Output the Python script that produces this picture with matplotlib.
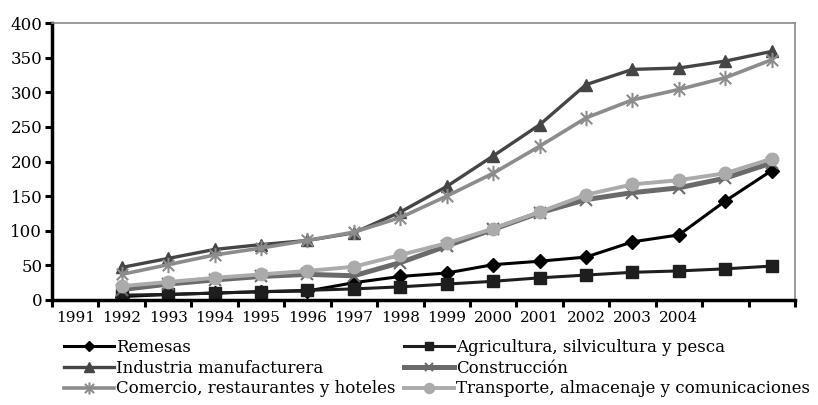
import numpy as np
import matplotlib
matplotlib.use("Agg")
import matplotlib.pyplot as plt
from matplotlib.path import Path

plt.rcParams['font.family'] = ['DejaVu Serif']

# categorias del eje x (16 posiciones, las dos ultimas sin rotulo)
years = ['1991', '1992', '1993', '1994', '1995', '1996', '1997', '1998',
         '1999', '2000', '2001', '2002', '2003', '2004', '', '']

# series (la primera posicion, 1991, no tiene dato)
remesas = [np.nan, 5, 8, 10, 12, 13, 25, 34, 39, 51, 56, 62, 84, 94, 143, 187]
agricultura = [np.nan, 7, 8, 10, 12, 14, 16, 19, 23, 27, 32, 36, 40, 42, 45, 49]
industria = [np.nan, 47, 60, 73, 80, 86, 97, 127, 164, 208, 253, 311, 333, 335, 345, 359]
construccion = [np.nan, 15, 23, 29, 34, 37, 35, 54, 78, 102, 126, 145, 155, 162, 176, 198]
comercio = [np.nan, 37, 51, 65, 75, 86, 98, 119, 150, 183, 222, 263, 289, 304, 321, 347]
transporte = [np.nan, 20, 26, 32, 37, 42, 48, 65, 82, 103, 127, 152, 167, 173, 183, 204]

# marcador tipo asterisco (cruz + linea vertical)
star = Path([(0, -1), (0, 1), (-0.75, -0.75), (0.75, 0.75), (-0.75, 0.75), (0.75, -0.75)],
            [Path.MOVETO, Path.LINETO] * 3)

fig = plt.figure(figsize=(8.18, 4.05), dpi=100)
ax = fig.add_axes([52/818, 1 - 300/405, 743/818, 277/405])

x = np.arange(len(years)) + 0.5

l_rem, = ax.plot(x, remesas, color='#000000', lw=2.2, marker='D', ms=7, label='Remesas')
l_agr, = ax.plot(x, agricultura, color='#1e1e1e', lw=2.2, marker='s', ms=8,
                 label='Agricultura, silvicultura y pesca')
l_ind, = ax.plot(x, industria, color='#454545', lw=2.4, marker='^', ms=9,
                 label='Industria manufacturera')
l_con, = ax.plot(x, construccion, color='#6a6a6a', lw=3.6, marker='x', ms=8, mew=1.5,
                 label='Construcción')
l_com, = ax.plot(x, comercio, color='#8c8c8c', lw=2.6, marker=star, ms=11, mew=1.5,
                 label='Comercio, restaurantes y hoteles')
l_tra, = ax.plot(x, transporte, color='#ababab', lw=2.8, marker='o', ms=9,
                 label='Transporte, almacenaje y comunicaciones')

ax.set_xlim(0, len(years))
ax.set_ylim(0, 400)
ax.set_yticks(range(0, 401, 50))
ax.set_xticks(np.arange(len(years) + 1))
ax.set_xticklabels([])
ax.set_xticks(x, minor=True)
ax.set_xticklabels(years, minor=True)

ax.tick_params(axis='y', direction='out', length=5, width=2.2, labelsize=12, pad=2)
ax.tick_params(axis='x', which='major', direction='out', length=5, width=2.2)
ax.tick_params(axis='x', which='minor', length=0, labelsize=11, pad=8)

for s in ['left', 'bottom']:
    ax.spines[s].set_linewidth(2.5)
    ax.spines[s].set_color('black')
for s in ['top', 'right']:
    ax.spines[s].set_linewidth(1.2)
    ax.spines[s].set_color('#8a8a8a')

leg_kw = dict(frameon=False, fontsize=12, handlelength=3.0, handletextpad=0.1,
              labelspacing=0.22, borderaxespad=0, borderpad=0, markerscale=0.8)
fig.legend(handles=[l_rem, l_ind, l_com], loc='upper left',
           bbox_to_anchor=(64/818, 1 - 339/405), **leg_kw)
fig.legend(handles=[l_agr, l_con, l_tra], loc='upper left',
           bbox_to_anchor=(404/818, 1 - 339/405), **leg_kw)

fig.savefig('out.png', dpi=100)
